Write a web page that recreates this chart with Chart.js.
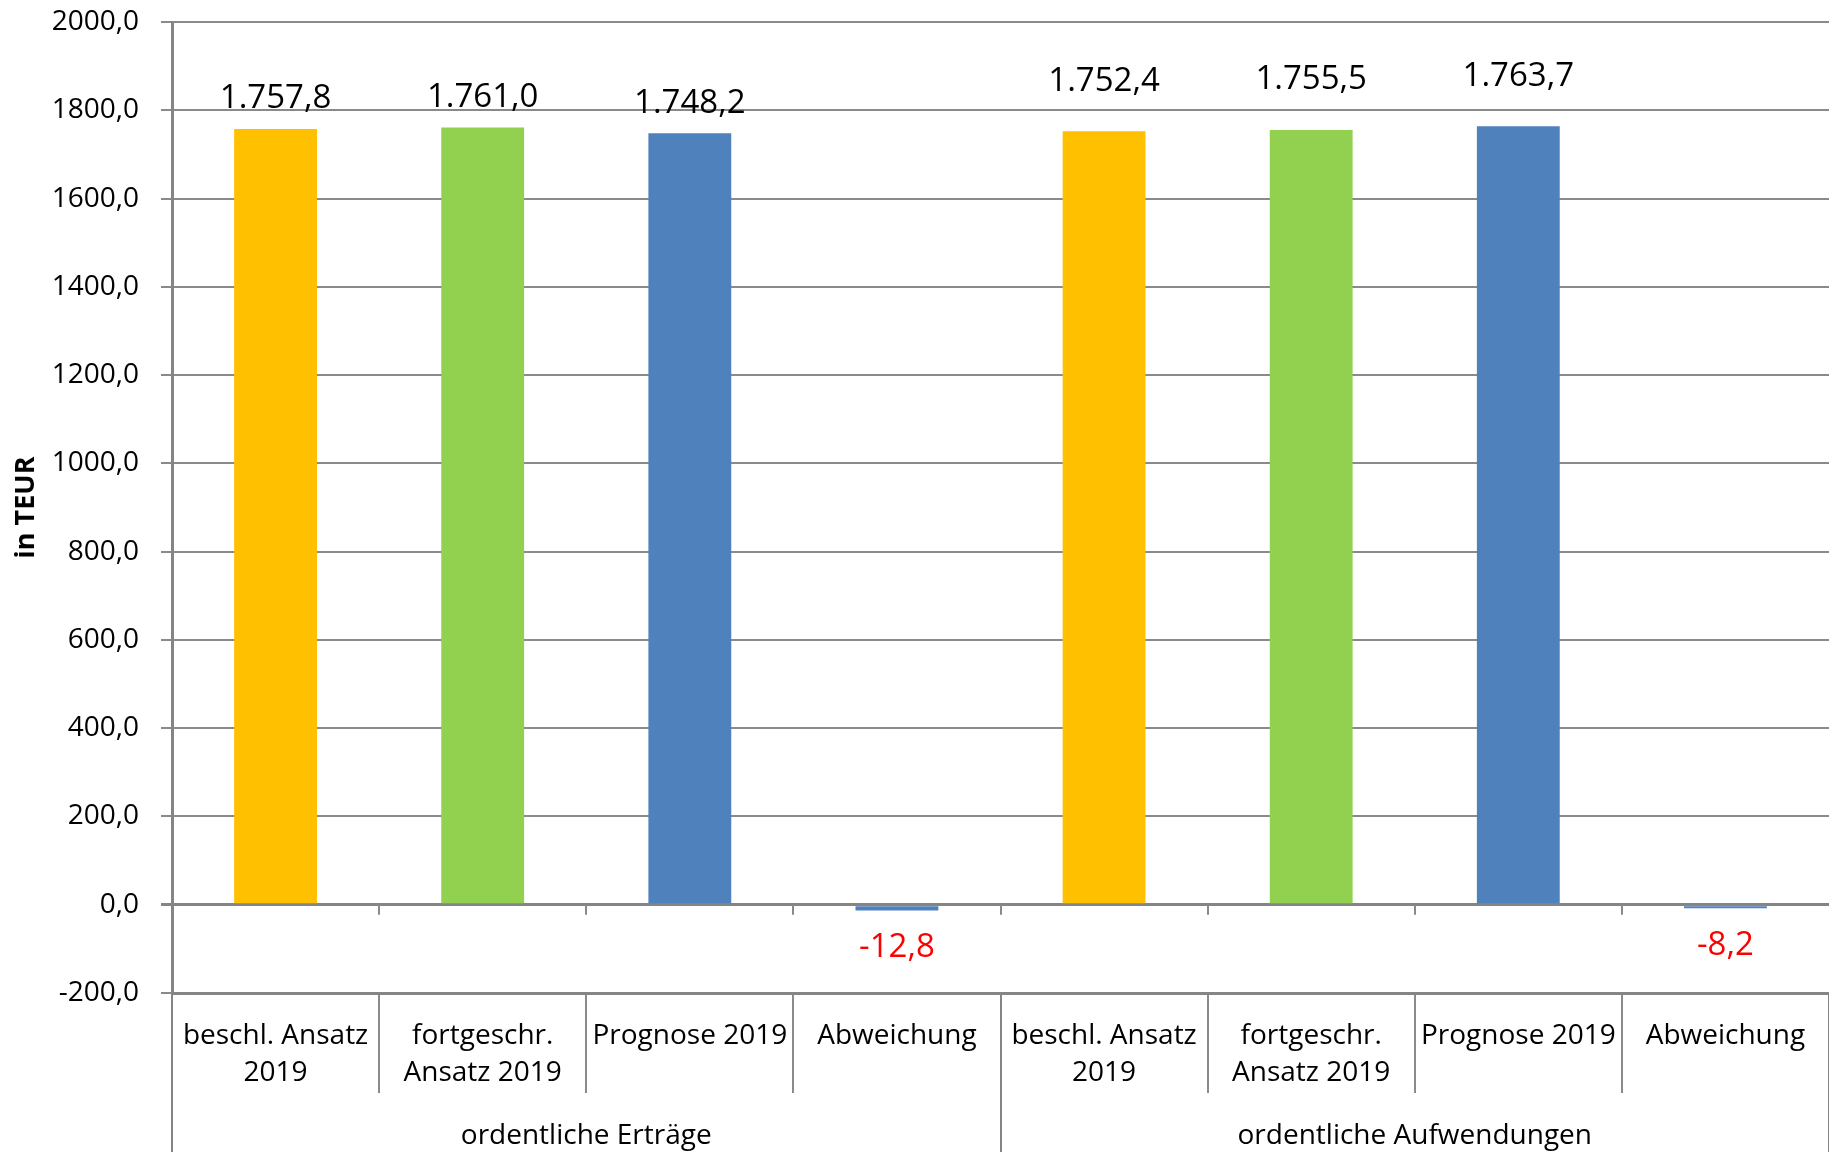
<!DOCTYPE html>
<html><head><meta charset="utf-8">
<script src="https://cdn.jsdelivr.net/npm/chart.js@4/dist/chart.umd.min.js"></script>
<style>html,body{margin:0;padding:0;background:#fff;} #wrap{width:1829px;height:1152px;position:relative;}</style>
</head><body><div id="wrap"><canvas id="c"></canvas></div>
<script>
// ---- data ----
const categories = [['beschl. Ansatz','2019'],['fortgeschr.','Ansatz 2019'],'Prognose 2019','Abweichung',
                    ['beschl. Ansatz','2019'],['fortgeschr.','Ansatz 2019'],'Prognose 2019','Abweichung'];
const groups = ['ordentliche Erträge','ordentliche Aufwendungen'];
const groupSize = 4;
const values = [1757.8, 1761.0, 1748.2, -12.8, 1752.4, 1755.5, 1763.7, -8.2];
const yMin = -200, yMax = 2000, yStep = 200;
const yTitle = 'in TEUR';

// ---- styles ----
const barColors = ['#FFC000','#92D050','#4F81BD','#4F81BD','#FFC000','#92D050','#4F81BD','#4F81BD'];
const FONT = "'Open Sans', sans-serif";
const GRID = '#8a8a8a', AXIS = '#858585';
const labelLiftByGroup = [30, 50];   // px gap of value labels above bars, per group
const negLabelDrop = 37;

function deNum(v){
  const neg = v < 0; const a = Math.abs(v);
  const parts = a.toFixed(1).split('.');
  const ip = parts[0].replace(/\B(?=(\d{3})+(?!\d))/g, '.');
  return (neg ? '-' : '') + ip + ',' + parts[1];
}

const decor = {
  id: 'decor',
  afterDatasetsDraw(chart){
    const ctx = chart.ctx, x = chart.scales.x, y = chart.scales.y, area = chart.chartArea;
    const meta = chart.getDatasetMeta(0);
    ctx.save();
    // small tick marks on the zero line between categories
    const y0 = y.getPixelForValue(0);
    ctx.strokeStyle = GRID; ctx.lineWidth = 2;
    for (let i = 1; i < values.length; i++){
      const bx = Math.round((x.getPixelForValue(i-1) + x.getPixelForValue(i)) / 2);
      ctx.beginPath(); ctx.moveTo(bx, y0); ctx.lineTo(bx, y0 + 10); ctx.stroke();
    }
    // group separators below the plot
    const half = (x.getPixelForValue(1) - x.getPixelForValue(0)) / 2;
    ctx.strokeStyle = AXIS; ctx.lineWidth = 2;
    for (let g = 0; g <= groups.length; g++){
      const idx = g * groupSize;
      const gx = Math.round(idx < values.length ? x.getPixelForValue(idx) - half : x.getPixelForValue(values.length-1) + half);
      ctx.beginPath(); ctx.moveTo(gx, area.bottom); ctx.lineTo(gx, chart.height); ctx.stroke();
    }
    // value labels
    ctx.font = '33px ' + FONT; ctx.textAlign = 'center'; ctx.textBaseline = 'middle';
    meta.data.forEach((bar, i) => {
      const v = values[i];
      ctx.fillStyle = v < 0 ? '#FF0000' : '#000000';
      const lift = labelLiftByGroup[Math.floor(i / groupSize)];
      ctx.fillText(deNum(v), bar.x, v < 0 ? bar.y + negLabelDrop : bar.y - lift);
    });
    // group labels
    ctx.font = '28px ' + FONT; ctx.fillStyle = '#000000';
    groups.forEach((g, gi) => {
      const a = x.getPixelForValue(gi*groupSize), b = x.getPixelForValue(gi*groupSize + groupSize - 1);
      ctx.fillText(g, (a + b) / 2, x.bottom - 16);
    });
    ctx.restore();
  }
};

new Chart(document.getElementById('c'), {
  type: 'bar',
  data: {
    labels: categories,
    datasets: [{ data: values, backgroundColor: barColors, borderWidth: 0,
                 barPercentage: 0.4, categoryPercentage: 1.0 }]
  },
  options: {
    responsive: true, maintainAspectRatio: false, animation: false, devicePixelRatio: 1,
    layout: { padding: { top: 22, left: 0, right: 0, bottom: 0 } },
    plugins: { legend: { display: false }, tooltip: { enabled: false } },
    scales: {
      x: {
        offset: true,
        grid: { offset: true, drawOnChartArea: false, drawTicks: true, tickLength: 100, color: GRID, lineWidth: 2 },
        border: { display: true, color: AXIS, width: 3 },
        ticks: { font: { family: FONT, size: 28, lineHeight: 1.33 }, color: '#000', padding: -76,
                 maxRotation: 0, minRotation: 0, autoSkip: false },
        afterFit(s){ s.height = 159; }
      },
      y: {
        min: yMin, max: yMax,
        ticks: { stepSize: yStep, font: { family: FONT, size: 28 }, color: '#000', padding: 22,
                 callback: v => v.toFixed(1).replace('.', ',') },
        grid: { color: c => c.tick && c.tick.value === 0 ? AXIS : GRID,
                lineWidth: c => c.tick && c.tick.value === 0 ? 3 : 2, tickLength: 11 },
        border: { display: true, color: AXIS, width: 3 },
        title: { display: true, text: yTitle, color: '#000', font: { family: FONT, size: 27, weight: 'bold' },
                 padding: { top: 10, bottom: 0 } },
        afterFit(s){ s.width = 172; s.paddingTop = 0; s.paddingBottom = 0; }
      }
    }
  },
  plugins: [decor]
});
</script></body></html>
